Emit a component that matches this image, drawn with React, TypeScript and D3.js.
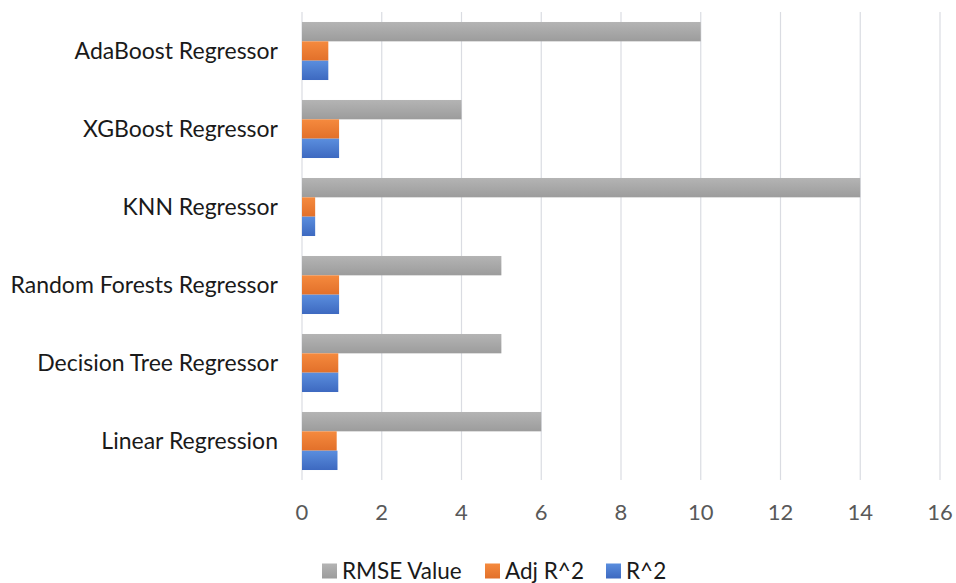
import React from "react";
import * as d3 from "d3";

const WIDTH = 956;
const HEIGHT = 583;

const categories = [
  "AdaBoost Regressor",
  "XGBoost Regressor",
  "KNN Regressor",
  "Random Forests Regressor",
  "Decision Tree Regressor",
  "Linear Regression",
];

const seriesNames = ["RMSE Value", "Adj R^2", "R^2"];
const rmseValues = [10, 4, 14, 5, 5, 6];
const adjR2Values = [0.66, 0.93, 0.33, 0.93, 0.91, 0.87];
const r2Values = [0.66, 0.93, 0.33, 0.93, 0.91, 0.89];
const xTicks = [0, 2, 4, 6, 8, 10, 12, 14, 16];

const seriesColors: Record<string, [string, string]> = {
  "RMSE Value": ["#b4b4b4", "#9c9c9c"],
  "Adj R^2": ["#f58a3e", "#e2702a"],
  "R^2": ["#5a8ede", "#3d69c0"],
};

const FONT = "Lato, 'Open Sans', sans-serif";

export default function App() {
  const x = d3.scaleLinear().domain([0, 16]).range([302, 940]);
  const y = d3
    .scaleBand<string>()
    .domain(categories)
    .range([12, 480])
    .paddingInner(0.256)
    .paddingOuter(0.128);
  const ySub = d3.scaleBand<string>().domain(seriesNames).range([0, y.bandwidth()]);

  const rows = categories.map((name, i) => ({
    name,
    values: [rmseValues[i], adjR2Values[i], r2Values[i]],
  }));

  const legendX = [322, 485, 606];

  return (
    <div style={{ position: "absolute", left: 0, top: 0 }}>
      <svg width={WIDTH} height={HEIGHT} style={{ display: "block", background: "#fff" }}>
        <defs>
          {seriesNames.map((s, i) => (
            <linearGradient key={s} id={`grad${i}`} x1="0" y1="0" x2="0" y2="1">
              <stop offset="0%" stopColor={seriesColors[s][0]} />
              <stop offset="100%" stopColor={seriesColors[s][1]} />
            </linearGradient>
          ))}
        </defs>

        {/* grid */}
        <g>
          {xTicks.map((t) => (
            <line
              key={t}
              x1={x(t)}
              x2={x(t)}
              y1={12}
              y2={480}
              stroke="#dadce2"
              strokeWidth={1.2}
            />
          ))}
        </g>

        {/* bars */}
        <g>
          {rows.map((r) => (
            <g key={r.name} transform={`translate(0,${y(r.name)})`}>
              {seriesNames.map((s, j) => (
                <rect
                  key={s}
                  x={x(0)}
                  y={ySub(s)}
                  width={x(r.values[j]) - x(0)}
                  height={ySub.bandwidth()}
                  fill={`url(#grad${j})`}
                />
              ))}
            </g>
          ))}
        </g>

        {/* category labels */}
        <g fontFamily={FONT} fontSize={23} fill="#1a1a1a" textAnchor="end">
          {categories.map((c) => (
            <text key={c} x={278} y={(y(c) ?? 0) + y.bandwidth() / 2} dy="0.35em">
              {c}
            </text>
          ))}
        </g>

        {/* x tick labels */}
        <g fontFamily={FONT} fontSize={22} fill="#595959" textAnchor="middle">
          {xTicks.map((t) => (
            <text key={t} x={x(t)} y={512} dy="0.35em">
              {t}
            </text>
          ))}
        </g>

        {/* legend */}
        <g fontFamily={FONT} fontSize={22.5} fill="#1a1a1a">
          {seriesNames.map((s, i) => (
            <g key={s} transform={`translate(${legendX[i]},571)`}>
              <rect x={0} y={-7.5} width={15} height={15} fill={`url(#grad${i})`} />
              <text x={20} y={0} dy="0.35em">
                {s}
              </text>
            </g>
          ))}
        </g>
      </svg>
    </div>
  );
}
